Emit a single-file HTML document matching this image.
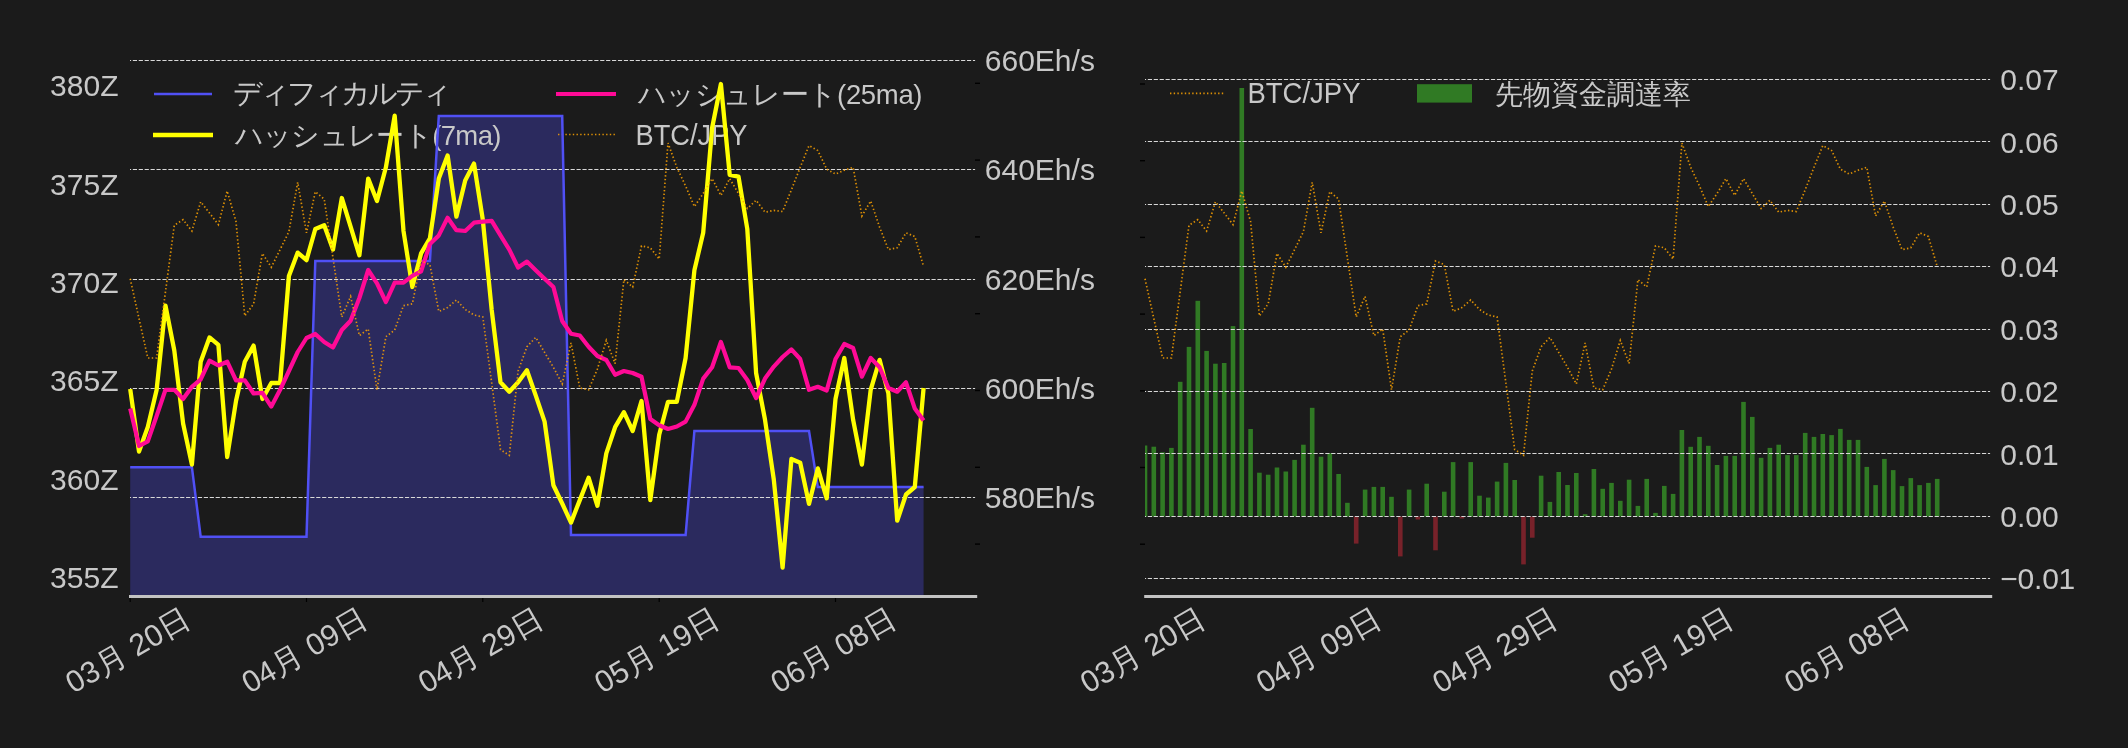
<!DOCTYPE html><html><head><meta charset="utf-8"><style>html,body{margin:0;padding:0;background:#1b1b1b;overflow:hidden}svg{display:block;will-change:transform}text{font-family:'Liberation Sans', sans-serif;fill:#c8c8c8}</style></head><body>
<svg width="2128" height="748" viewBox="0 0 2128 748">
<rect x="0" y="0" width="2128" height="748" fill="#1b1b1b"/>
<polygon points="130.2,596 130.2,467.2 139.0,467.2 147.8,467.2 156.6,467.2 165.5,467.2 174.3,467.2 183.1,467.2 191.9,467.2 200.7,536.8 209.5,536.8 218.4,536.8 227.2,536.8 236.0,536.8 244.8,536.8 253.6,536.8 262.4,536.8 271.3,536.8 280.1,536.8 288.9,536.8 297.7,536.8 306.5,536.8 315.3,261.1 324.2,261.1 333.0,261.1 341.8,261.1 350.6,261.1 359.4,261.1 368.2,261.1 377.0,261.1 385.9,261.1 394.7,261.1 403.5,261.1 412.3,261.1 421.1,261.1 429.9,261.1 438.8,115.9 447.6,115.9 456.4,115.9 465.2,115.9 474.0,115.9 482.8,115.9 491.7,115.9 500.5,115.9 509.3,115.9 518.1,115.9 526.9,115.9 535.7,115.9 544.6,115.9 553.4,115.9 562.2,115.9 571.0,535.1 579.8,535.1 588.6,535.1 597.4,535.1 606.3,535.1 615.1,535.1 623.9,535.1 632.7,535.1 641.5,535.1 650.3,535.1 659.2,535.1 668.0,535.1 676.8,535.1 685.6,535.1 694.4,430.9 703.2,430.9 712.1,430.9 720.9,430.9 729.7,430.9 738.5,430.9 747.3,430.9 756.1,430.9 765.0,430.9 773.8,430.9 782.6,430.9 791.4,430.9 800.2,430.9 809.0,430.9 817.8,487.0 826.7,487.0 835.5,487.0 844.3,487.0 853.1,487.0 861.9,487.0 870.7,487.0 879.6,487.0 888.4,487.0 897.2,487.0 906.0,487.0 914.8,487.0 923.6,487.0 923.6,596" fill="#2b2a5e"/>
<line x1="130" y1="60.50" x2="975.1" y2="60.50" stroke="#d8d8d8" stroke-width="1.1" stroke-dasharray="4.2 1.716" stroke-dashoffset="3.1"/>
<line x1="130" y1="169.50" x2="975.1" y2="169.50" stroke="#d8d8d8" stroke-width="1.1" stroke-dasharray="4.2 1.716" stroke-dashoffset="3.1"/>
<line x1="130" y1="279.50" x2="975.1" y2="279.50" stroke="#d8d8d8" stroke-width="1.1" stroke-dasharray="4.2 1.716" stroke-dashoffset="3.1"/>
<line x1="130" y1="388.50" x2="975.1" y2="388.50" stroke="#d8d8d8" stroke-width="1.1" stroke-dasharray="4.2 1.716" stroke-dashoffset="3.1"/>
<line x1="130" y1="497.50" x2="975.1" y2="497.50" stroke="#d8d8d8" stroke-width="1.1" stroke-dasharray="4.2 1.716" stroke-dashoffset="3.1"/>
<line x1="975" y1="83.3" x2="980" y2="83.3" stroke="#000" stroke-width="1.4"/>
<line x1="975" y1="160.1" x2="980" y2="160.1" stroke="#000" stroke-width="1.4"/>
<line x1="975" y1="236.89999999999998" x2="980" y2="236.89999999999998" stroke="#000" stroke-width="1.4"/>
<line x1="975" y1="313.7" x2="980" y2="313.7" stroke="#000" stroke-width="1.4"/>
<line x1="975" y1="390.5" x2="980" y2="390.5" stroke="#000" stroke-width="1.4"/>
<line x1="975" y1="467.3" x2="980" y2="467.3" stroke="#000" stroke-width="1.4"/>
<line x1="975" y1="544.0999999999999" x2="980" y2="544.0999999999999" stroke="#000" stroke-width="1.4"/>
<line x1="154" y1="94" x2="212" y2="94" stroke="#5050f5" stroke-width="2.5"/>
<line x1="153" y1="135" x2="213" y2="135" stroke="#ffff00" stroke-width="4.3"/>
<line x1="556" y1="94" x2="616" y2="94" stroke="#ff0a96" stroke-width="4.2"/>
<line x1="558" y1="134.5" x2="615" y2="134.5" stroke="#ffa500" stroke-opacity="0.85" stroke-width="1.7" stroke-dasharray="1.4 2.3"/>
<text x="232.5" y="102.8" font-size="29" textLength="219" lengthAdjust="spacing">ディフィカルティ</text>
<text x="234.5" y="144.5" font-size="27.5" textLength="267" lengthAdjust="spacing">ハッシュレート(7ma)</text>
<text x="637.5" y="104" font-size="27.5" textLength="285" lengthAdjust="spacing">ハッシュレート(25ma)</text>
<text x="635.5" y="144.7" font-size="29.5" textLength="112" lengthAdjust="spacingAndGlyphs">BTC/JPY</text>
<polyline points="130.2,467.2 139.0,467.2 147.8,467.2 156.6,467.2 165.5,467.2 174.3,467.2 183.1,467.2 191.9,467.2 200.7,536.8 209.5,536.8 218.4,536.8 227.2,536.8 236.0,536.8 244.8,536.8 253.6,536.8 262.4,536.8 271.3,536.8 280.1,536.8 288.9,536.8 297.7,536.8 306.5,536.8 315.3,261.1 324.2,261.1 333.0,261.1 341.8,261.1 350.6,261.1 359.4,261.1 368.2,261.1 377.0,261.1 385.9,261.1 394.7,261.1 403.5,261.1 412.3,261.1 421.1,261.1 429.9,261.1 438.8,115.9 447.6,115.9 456.4,115.9 465.2,115.9 474.0,115.9 482.8,115.9 491.7,115.9 500.5,115.9 509.3,115.9 518.1,115.9 526.9,115.9 535.7,115.9 544.6,115.9 553.4,115.9 562.2,115.9 571.0,535.1 579.8,535.1 588.6,535.1 597.4,535.1 606.3,535.1 615.1,535.1 623.9,535.1 632.7,535.1 641.5,535.1 650.3,535.1 659.2,535.1 668.0,535.1 676.8,535.1 685.6,535.1 694.4,430.9 703.2,430.9 712.1,430.9 720.9,430.9 729.7,430.9 738.5,430.9 747.3,430.9 756.1,430.9 765.0,430.9 773.8,430.9 782.6,430.9 791.4,430.9 800.2,430.9 809.0,430.9 817.8,487.0 826.7,487.0 835.5,487.0 844.3,487.0 853.1,487.0 861.9,487.0 870.7,487.0 879.6,487.0 888.4,487.0 897.2,487.0 906.0,487.0 914.8,487.0 923.6,487.0" fill="none" stroke="#5050f5" stroke-width="2.5"/>
<polyline points="130.2,389.0 139.0,451.5 147.8,427.0 156.6,390.0 165.5,305.6 174.3,350.5 183.1,423.5 191.9,464.6 200.7,361.7 209.5,337.4 218.4,344.9 227.2,457.0 236.0,401.0 244.8,361.7 253.6,345.6 262.4,399.0 271.3,383.0 280.1,383.0 288.9,276.0 297.7,252.6 306.5,260.1 315.3,229.0 324.2,225.3 333.0,249.6 341.8,198.0 350.6,226.6 359.4,255.3 368.2,178.6 377.0,201.0 385.9,167.3 394.7,115.7 403.5,231.0 412.3,287.0 421.1,253.4 429.9,238.4 438.8,178.6 447.6,155.4 456.4,216.7 465.2,180.4 474.0,163.6 482.8,219.7 491.7,310.0 500.5,382.3 509.3,391.7 518.1,382.3 526.9,370.3 535.7,395.4 544.6,421.6 553.4,485.2 562.2,503.5 571.0,522.6 579.8,500.1 588.6,477.7 597.4,505.8 606.3,453.4 615.1,427.2 623.9,412.2 632.7,431.0 641.5,401.0 650.3,500.1 659.2,434.7 668.0,401.8 676.8,401.8 685.6,358.0 694.4,270.2 703.2,232.8 712.1,128.0 720.9,84.0 729.7,174.8 738.5,176.7 747.3,229.0 756.1,373.0 765.0,419.7 773.8,479.6 782.6,567.5 791.4,459.0 800.2,462.7 809.0,503.9 817.8,468.4 826.7,498.3 835.5,399.0 844.3,358.0 853.1,419.7 861.9,464.6 870.7,389.8 879.6,359.9 888.4,393.5 897.2,520.7 906.0,494.5 914.8,487.0 923.6,388.0" fill="none" stroke="#ffff00" stroke-width="4.3" stroke-linejoin="round"/>
<polyline points="130.2,408.5 139.0,446.0 147.8,441.4 156.6,416.0 165.5,389.8 174.3,389.8 183.1,399.0 191.9,386.8 200.7,379.3 209.5,360.6 218.4,365.5 227.2,361.7 236.0,380.4 244.8,380.4 253.6,393.5 262.4,392.8 271.3,406.6 280.1,389.8 288.9,371.0 297.7,352.0 306.5,338.0 315.3,334.0 324.2,342.0 333.0,347.5 341.8,330.0 350.6,320.7 359.4,298.0 368.2,270.0 377.0,283.3 385.9,302.0 394.7,282.6 403.5,282.6 412.3,275.8 421.1,271.3 429.9,244.0 438.8,235.4 447.6,217.8 456.4,230.2 465.2,231.0 474.0,222.7 482.8,221.6 491.7,220.8 500.5,235.4 509.3,249.6 518.1,267.6 526.9,261.6 535.7,270.2 544.6,278.8 553.4,287.0 562.2,321.0 571.0,333.7 579.8,335.5 588.6,346.8 597.4,356.0 606.3,360.0 615.1,374.8 623.9,371.0 632.7,373.0 641.5,376.7 650.3,419.0 659.2,425.3 668.0,429.0 676.8,426.5 685.6,421.6 694.4,404.8 703.2,378.6 712.1,367.3 720.9,342.0 729.7,367.3 738.5,368.0 747.3,380.0 756.1,398.0 765.0,378.6 773.8,366.6 782.6,357.0 791.4,349.4 800.2,359.0 809.0,389.8 817.8,386.8 826.7,390.5 835.5,359.0 844.3,344.0 853.1,348.0 861.9,376.7 870.7,358.0 879.6,367.3 888.4,388.0 897.2,391.7 906.0,382.3 914.8,408.5 923.6,420.5" fill="none" stroke="#ff0a96" stroke-width="4.2" stroke-linejoin="round"/>
<polyline points="130.2,278.8 139.0,318.5 147.8,358.0 156.6,358.0 165.5,291.6 174.3,225.3 183.1,219.7 191.9,231.0 200.7,201.8 209.5,213.0 218.4,224.6 227.2,191.0 236.0,221.6 244.8,315.9 253.6,303.9 262.4,253.4 271.3,267.2 280.1,249.6 288.9,231.7 297.7,182.3 306.5,232.8 315.3,191.7 324.2,199.1 333.0,258.0 341.8,317.0 350.6,296.4 359.4,335.6 368.2,329.0 377.0,389.8 385.9,336.7 394.7,330.0 403.5,305.6 412.3,303.9 421.1,261.0 429.9,264.6 438.8,311.4 447.6,307.6 456.4,300.0 465.2,309.5 474.0,315.0 482.8,317.0 491.7,383.0 500.5,449.6 509.3,455.3 518.1,371.0 526.9,346.8 535.7,337.4 544.6,352.4 553.4,367.3 562.2,384.0 571.0,343.0 579.8,388.0 588.6,389.8 597.4,369.0 606.3,340.4 615.1,363.6 623.9,279.6 632.7,287.0 641.5,245.9 650.3,247.8 659.2,259.0 668.0,143.0 676.8,167.3 685.6,186.0 694.4,206.6 703.2,193.5 712.1,178.6 720.9,195.4 729.7,178.6 738.5,193.5 747.3,208.5 756.1,200.3 765.0,212.2 773.8,210.4 782.6,211.5 791.4,189.8 800.2,167.3 809.0,145.6 817.8,150.5 826.7,169.2 835.5,174.0 844.3,170.3 853.1,167.3 861.9,216.0 870.7,201.0 879.6,227.2 888.4,249.6 897.2,247.8 906.0,232.8 914.8,236.5 923.6,266.5" fill="none" stroke="#ffa500" stroke-opacity="0.85" stroke-width="1.7" stroke-dasharray="1.4 2.3"/>
<line x1="129" y1="596.5" x2="977.2" y2="596.5" stroke="#c3c3c3" stroke-width="3"/>
<line x1="130.2" y1="598" x2="130.2" y2="602" stroke="#000" stroke-width="1.2"/>
<line x1="306.5" y1="598" x2="306.5" y2="602" stroke="#000" stroke-width="1.2"/>
<line x1="482.8" y1="598" x2="482.8" y2="602" stroke="#000" stroke-width="1.2"/>
<line x1="659.2" y1="598" x2="659.2" y2="602" stroke="#000" stroke-width="1.2"/>
<line x1="835.5" y1="598" x2="835.5" y2="602" stroke="#000" stroke-width="1.2"/>
<text x="118.5" y="96.1" font-size="30" text-anchor="end">380Z</text>
<text x="118.5" y="194.5" font-size="30" text-anchor="end">375Z</text>
<text x="118.5" y="292.9" font-size="30" text-anchor="end">370Z</text>
<text x="118.5" y="391.3" font-size="30" text-anchor="end">365Z</text>
<text x="118.5" y="489.7" font-size="30" text-anchor="end">360Z</text>
<text x="118.5" y="588.1" font-size="30" text-anchor="end">355Z</text>
<text x="984.8" y="71.1" font-size="30">660Eh/s</text>
<text x="984.8" y="180.3" font-size="30">640Eh/s</text>
<text x="984.8" y="289.6" font-size="30">620Eh/s</text>
<text x="984.8" y="398.9" font-size="30">600Eh/s</text>
<text x="984.8" y="508.1" font-size="30">580Eh/s</text>
<text x="127.7" y="649.8" font-size="30.5" text-anchor="middle" dominant-baseline="central" transform="rotate(-30 127.7 649.8)">03月 20日</text>
<text x="304.0" y="649.8" font-size="30.5" text-anchor="middle" dominant-baseline="central" transform="rotate(-30 304.0 649.8)">04月 09日</text>
<text x="480.3" y="649.8" font-size="30.5" text-anchor="middle" dominant-baseline="central" transform="rotate(-30 480.3 649.8)">04月 29日</text>
<text x="656.7" y="649.8" font-size="30.5" text-anchor="middle" dominant-baseline="central" transform="rotate(-30 656.7 649.8)">05月 19日</text>
<text x="833.0" y="649.8" font-size="30.5" text-anchor="middle" dominant-baseline="central" transform="rotate(-30 833.0 649.8)">06月 08日</text>
<rect x="1145.0" y="445.5" width="2.3" height="71.0" fill="#307a24"/>
<rect x="1151.5" y="446.7" width="4.6" height="69.8" fill="#307a24"/>
<rect x="1160.3" y="452.3" width="4.6" height="64.2" fill="#307a24"/>
<rect x="1169.1" y="447.9" width="4.6" height="68.6" fill="#307a24"/>
<rect x="1177.9" y="381.8" width="4.6" height="134.7" fill="#307a24"/>
<rect x="1186.7" y="346.9" width="4.6" height="169.6" fill="#307a24"/>
<rect x="1195.5" y="300.8" width="4.6" height="215.7" fill="#307a24"/>
<rect x="1204.3" y="350.9" width="4.6" height="165.6" fill="#307a24"/>
<rect x="1213.1" y="363.7" width="4.6" height="152.8" fill="#307a24"/>
<rect x="1221.9" y="363.0" width="4.6" height="153.5" fill="#307a24"/>
<rect x="1230.7" y="326.1" width="4.6" height="190.4" fill="#307a24"/>
<rect x="1239.5" y="88.0" width="4.6" height="428.5" fill="#307a24"/>
<rect x="1248.3" y="429.0" width="4.6" height="87.5" fill="#307a24"/>
<rect x="1257.1" y="472.7" width="4.6" height="43.8" fill="#307a24"/>
<rect x="1265.9" y="474.7" width="4.6" height="41.8" fill="#307a24"/>
<rect x="1274.7" y="467.5" width="4.6" height="49.0" fill="#307a24"/>
<rect x="1283.5" y="471.5" width="4.6" height="45.0" fill="#307a24"/>
<rect x="1292.3" y="459.9" width="4.6" height="56.6" fill="#307a24"/>
<rect x="1301.1" y="444.7" width="4.6" height="71.8" fill="#307a24"/>
<rect x="1309.9" y="407.8" width="4.6" height="108.7" fill="#307a24"/>
<rect x="1318.7" y="456.7" width="4.6" height="59.8" fill="#307a24"/>
<rect x="1327.5" y="453.1" width="4.6" height="63.4" fill="#307a24"/>
<rect x="1336.3" y="474.0" width="4.6" height="42.5" fill="#307a24"/>
<rect x="1345.1" y="502.8" width="4.6" height="13.7" fill="#307a24"/>
<rect x="1353.9" y="516.5" width="4.6" height="27.1" fill="#78222a"/>
<rect x="1362.8" y="489.6" width="4.6" height="26.9" fill="#307a24"/>
<rect x="1371.6" y="486.9" width="4.6" height="29.6" fill="#307a24"/>
<rect x="1380.4" y="486.9" width="4.6" height="29.6" fill="#307a24"/>
<rect x="1389.2" y="496.8" width="4.6" height="19.7" fill="#307a24"/>
<rect x="1398.0" y="516.5" width="4.6" height="39.9" fill="#78222a"/>
<rect x="1406.8" y="489.6" width="4.6" height="26.9" fill="#307a24"/>
<rect x="1415.6" y="516.5" width="4.6" height="3.0" fill="#78222a"/>
<rect x="1424.4" y="483.7" width="4.6" height="32.8" fill="#307a24"/>
<rect x="1433.2" y="516.5" width="4.6" height="33.8" fill="#78222a"/>
<rect x="1442.0" y="491.7" width="4.6" height="24.8" fill="#307a24"/>
<rect x="1450.8" y="462.1" width="4.6" height="54.4" fill="#307a24"/>
<rect x="1459.6" y="516.5" width="4.6" height="2.0" fill="#78222a"/>
<rect x="1468.4" y="462.1" width="4.6" height="54.4" fill="#307a24"/>
<rect x="1477.2" y="495.7" width="4.6" height="20.8" fill="#307a24"/>
<rect x="1486.0" y="497.6" width="4.6" height="18.9" fill="#307a24"/>
<rect x="1494.8" y="481.6" width="4.6" height="34.9" fill="#307a24"/>
<rect x="1503.6" y="462.9" width="4.6" height="53.6" fill="#307a24"/>
<rect x="1512.4" y="480.0" width="4.6" height="36.5" fill="#307a24"/>
<rect x="1521.2" y="516.5" width="4.6" height="47.9" fill="#78222a"/>
<rect x="1530.0" y="516.5" width="4.6" height="21.2" fill="#78222a"/>
<rect x="1538.8" y="475.7" width="4.6" height="40.8" fill="#307a24"/>
<rect x="1547.6" y="501.9" width="4.6" height="14.6" fill="#307a24"/>
<rect x="1556.4" y="472.0" width="4.6" height="44.5" fill="#307a24"/>
<rect x="1565.2" y="485.0" width="4.6" height="31.5" fill="#307a24"/>
<rect x="1574.0" y="473.0" width="4.6" height="43.5" fill="#307a24"/>
<rect x="1582.8" y="514.2" width="4.6" height="2.3" fill="#307a24"/>
<rect x="1591.6" y="469.0" width="4.6" height="47.5" fill="#307a24"/>
<rect x="1600.4" y="488.8" width="4.6" height="27.7" fill="#307a24"/>
<rect x="1609.2" y="482.9" width="4.6" height="33.6" fill="#307a24"/>
<rect x="1618.0" y="500.8" width="4.6" height="15.7" fill="#307a24"/>
<rect x="1626.8" y="479.7" width="4.6" height="36.8" fill="#307a24"/>
<rect x="1635.6" y="505.9" width="4.6" height="10.6" fill="#307a24"/>
<rect x="1644.4" y="478.9" width="4.6" height="37.6" fill="#307a24"/>
<rect x="1653.2" y="512.9" width="4.6" height="3.6" fill="#307a24"/>
<rect x="1662.0" y="485.9" width="4.6" height="30.6" fill="#307a24"/>
<rect x="1670.8" y="493.9" width="4.6" height="22.6" fill="#307a24"/>
<rect x="1679.6" y="430.0" width="4.6" height="86.5" fill="#307a24"/>
<rect x="1688.4" y="446.8" width="4.6" height="69.7" fill="#307a24"/>
<rect x="1697.2" y="436.9" width="4.6" height="79.6" fill="#307a24"/>
<rect x="1706.0" y="445.8" width="4.6" height="70.7" fill="#307a24"/>
<rect x="1714.8" y="465.0" width="4.6" height="51.5" fill="#307a24"/>
<rect x="1723.6" y="455.9" width="4.6" height="60.6" fill="#307a24"/>
<rect x="1732.4" y="455.9" width="4.6" height="60.6" fill="#307a24"/>
<rect x="1741.2" y="401.9" width="4.6" height="114.6" fill="#307a24"/>
<rect x="1750.0" y="416.9" width="4.6" height="99.6" fill="#307a24"/>
<rect x="1758.8" y="457.8" width="4.6" height="58.7" fill="#307a24"/>
<rect x="1767.6" y="447.9" width="4.6" height="68.6" fill="#307a24"/>
<rect x="1776.4" y="444.7" width="4.6" height="71.8" fill="#307a24"/>
<rect x="1785.2" y="455.1" width="4.6" height="61.4" fill="#307a24"/>
<rect x="1794.0" y="455.1" width="4.6" height="61.4" fill="#307a24"/>
<rect x="1802.9" y="432.9" width="4.6" height="83.6" fill="#307a24"/>
<rect x="1811.7" y="436.9" width="4.6" height="79.6" fill="#307a24"/>
<rect x="1820.5" y="434.0" width="4.6" height="82.5" fill="#307a24"/>
<rect x="1829.3" y="435.1" width="4.6" height="81.4" fill="#307a24"/>
<rect x="1838.1" y="428.9" width="4.6" height="87.6" fill="#307a24"/>
<rect x="1846.9" y="439.9" width="4.6" height="76.6" fill="#307a24"/>
<rect x="1855.7" y="439.9" width="4.6" height="76.6" fill="#307a24"/>
<rect x="1864.5" y="466.9" width="4.6" height="49.6" fill="#307a24"/>
<rect x="1873.3" y="485.1" width="4.6" height="31.4" fill="#307a24"/>
<rect x="1882.1" y="458.9" width="4.6" height="57.6" fill="#307a24"/>
<rect x="1890.9" y="470.1" width="4.6" height="46.4" fill="#307a24"/>
<rect x="1899.7" y="486.1" width="4.6" height="30.4" fill="#307a24"/>
<rect x="1908.5" y="478.1" width="4.6" height="38.4" fill="#307a24"/>
<rect x="1917.3" y="485.1" width="4.6" height="31.4" fill="#307a24"/>
<rect x="1926.1" y="482.9" width="4.6" height="33.6" fill="#307a24"/>
<rect x="1934.9" y="478.9" width="4.6" height="37.6" fill="#307a24"/>
<line x1="1145" y1="79.50" x2="1990.1" y2="79.50" stroke="#d8d8d8" stroke-width="1.1" stroke-dasharray="4.2 1.716" stroke-dashoffset="3.1"/>
<line x1="1145" y1="141.50" x2="1990.1" y2="141.50" stroke="#d8d8d8" stroke-width="1.1" stroke-dasharray="4.2 1.716" stroke-dashoffset="3.1"/>
<line x1="1145" y1="204.50" x2="1990.1" y2="204.50" stroke="#d8d8d8" stroke-width="1.1" stroke-dasharray="4.2 1.716" stroke-dashoffset="3.1"/>
<line x1="1145" y1="266.50" x2="1990.1" y2="266.50" stroke="#d8d8d8" stroke-width="1.1" stroke-dasharray="4.2 1.716" stroke-dashoffset="3.1"/>
<line x1="1145" y1="329.50" x2="1990.1" y2="329.50" stroke="#d8d8d8" stroke-width="1.1" stroke-dasharray="4.2 1.716" stroke-dashoffset="3.1"/>
<line x1="1145" y1="391.50" x2="1990.1" y2="391.50" stroke="#d8d8d8" stroke-width="1.1" stroke-dasharray="4.2 1.716" stroke-dashoffset="3.1"/>
<line x1="1145" y1="453.50" x2="1990.1" y2="453.50" stroke="#d8d8d8" stroke-width="1.1" stroke-dasharray="4.2 1.716" stroke-dashoffset="3.1"/>
<line x1="1145" y1="516.50" x2="1990.1" y2="516.50" stroke="#d8d8d8" stroke-width="1.1" stroke-dasharray="4.2 1.716" stroke-dashoffset="3.1"/>
<line x1="1145" y1="578.50" x2="1990.1" y2="578.50" stroke="#d8d8d8" stroke-width="1.1" stroke-dasharray="4.2 1.716" stroke-dashoffset="3.1"/>
<line x1="1140" y1="84.0" x2="1145" y2="84.0" stroke="#000" stroke-width="1.4"/>
<line x1="1140" y1="160.7" x2="1145" y2="160.7" stroke="#000" stroke-width="1.4"/>
<line x1="1140" y1="237.4" x2="1145" y2="237.4" stroke="#000" stroke-width="1.4"/>
<line x1="1140" y1="314.1" x2="1145" y2="314.1" stroke="#000" stroke-width="1.4"/>
<line x1="1140" y1="390.8" x2="1145" y2="390.8" stroke="#000" stroke-width="1.4"/>
<line x1="1140" y1="467.5" x2="1145" y2="467.5" stroke="#000" stroke-width="1.4"/>
<line x1="1140" y1="544.2" x2="1145" y2="544.2" stroke="#000" stroke-width="1.4"/>
<line x1="1170" y1="93.4" x2="1224" y2="93.4" stroke="#ffa500" stroke-opacity="0.85" stroke-width="1.7" stroke-dasharray="1.4 2.3"/>
<rect x="1417" y="84.2" width="55" height="18.4" fill="#307a24"/>
<text x="1247.5" y="102.7" font-size="29.5" textLength="113" lengthAdjust="spacingAndGlyphs">BTC/JPY</text>
<text x="1494.8" y="103.5" font-size="27.9">先物資金調達率</text>
<polyline points="1145.0,278.8 1153.8,318.5 1162.6,358.0 1171.4,358.0 1180.2,291.6 1189.0,225.3 1197.8,219.7 1206.6,231.0 1215.4,201.8 1224.2,213.0 1233.0,224.6 1241.8,191.0 1250.6,221.6 1259.4,315.9 1268.2,303.9 1277.0,253.4 1285.8,267.2 1294.6,249.6 1303.4,231.7 1312.2,182.3 1321.0,232.8 1329.8,191.7 1338.6,199.1 1347.4,258.0 1356.2,317.0 1365.0,296.4 1373.9,335.6 1382.7,329.0 1391.5,389.8 1400.3,336.7 1409.1,330.0 1417.9,305.6 1426.7,303.9 1435.5,261.0 1444.3,264.6 1453.1,311.4 1461.9,307.6 1470.7,300.0 1479.5,309.5 1488.3,315.0 1497.1,317.0 1505.9,383.0 1514.7,449.6 1523.5,455.3 1532.3,371.0 1541.1,346.8 1549.9,337.4 1558.7,352.4 1567.5,367.3 1576.3,384.0 1585.1,343.0 1593.9,388.0 1602.7,389.8 1611.5,369.0 1620.3,340.4 1629.1,363.6 1637.9,279.6 1646.7,287.0 1655.5,245.9 1664.3,247.8 1673.1,259.0 1681.9,143.0 1690.7,167.3 1699.5,186.0 1708.3,206.6 1717.1,193.5 1725.9,178.6 1734.7,195.4 1743.5,178.6 1752.3,193.5 1761.1,208.5 1769.9,200.3 1778.7,212.2 1787.5,210.4 1796.3,211.5 1805.2,189.8 1814.0,167.3 1822.8,145.6 1831.6,150.5 1840.4,169.2 1849.2,174.0 1858.0,170.3 1866.8,167.3 1875.6,216.0 1884.4,201.0 1893.2,227.2 1902.0,249.6 1910.8,247.8 1919.6,232.8 1928.4,236.5 1937.2,266.5" fill="none" stroke="#ffa500" stroke-opacity="0.85" stroke-width="1.7" stroke-dasharray="1.4 2.3"/>
<line x1="1144.2" y1="596.5" x2="1992.2" y2="596.5" stroke="#c3c3c3" stroke-width="3"/>
<text x="2000.3" y="90.3" font-size="30">0.07</text>
<text x="2000.3" y="152.7" font-size="30">0.06</text>
<text x="2000.3" y="215.1" font-size="30">0.05</text>
<text x="2000.3" y="277.4" font-size="30">0.04</text>
<text x="2000.3" y="339.8" font-size="30">0.03</text>
<text x="2000.3" y="402.2" font-size="30">0.02</text>
<text x="2000.3" y="464.6" font-size="30">0.01</text>
<text x="2000.3" y="526.9" font-size="30">0.00</text>
<text x="2000.3" y="589.3" font-size="30" textLength="75">−0.01</text>
<text x="1142.5" y="649.8" font-size="30.5" text-anchor="middle" dominant-baseline="central" transform="rotate(-30 1142.5 649.8)">03月 20日</text>
<text x="1318.5" y="649.8" font-size="30.5" text-anchor="middle" dominant-baseline="central" transform="rotate(-30 1318.5 649.8)">04月 09日</text>
<text x="1494.6" y="649.8" font-size="30.5" text-anchor="middle" dominant-baseline="central" transform="rotate(-30 1494.6 649.8)">04月 29日</text>
<text x="1670.6" y="649.8" font-size="30.5" text-anchor="middle" dominant-baseline="central" transform="rotate(-30 1670.6 649.8)">05月 19日</text>
<text x="1846.7" y="649.8" font-size="30.5" text-anchor="middle" dominant-baseline="central" transform="rotate(-30 1846.7 649.8)">06月 08日</text>
</svg></body></html>
